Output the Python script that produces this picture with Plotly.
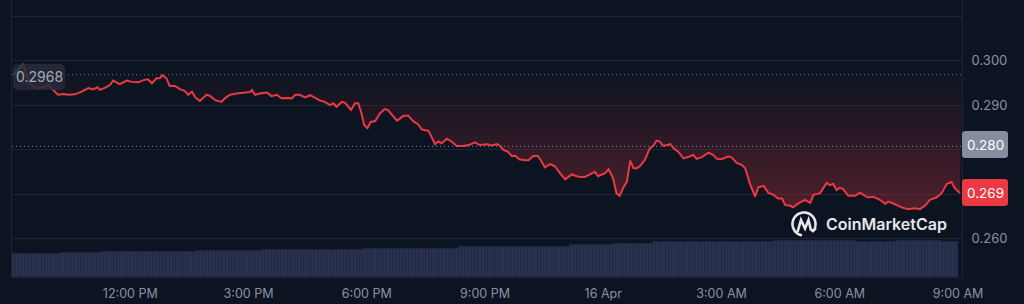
import numpy as np
import pandas as pd
import plotly.graph_objects as go

# ---------------- data ----------------
DAY1 = "2024-04-15"
DAY2 = "2024-04-16"
DAY1_TIMES = ["09:03", "09:17", "09:27", "09:38", "09:47", "09:55", "10:00", "10:10", "10:18", "10:26",
              "10:36", "10:46", "10:56", "11:04", "11:10", "11:14", "11:22", "11:29", "11:34", "11:44",
              "11:55", "12:02", "12:12", "12:20", "12:27", "12:33", "12:40", "12:45", "12:49", "12:55",
              "13:00", "13:08", "13:16", "13:23", "13:28", "13:34", "13:39", "13:46", "13:56", "14:01",
              "14:09", "14:19", "14:24", "14:32", "14:42", "14:55", "15:02", "15:05", "15:10", "15:17",
              "15:28", "15:35", "15:43", "15:50", "15:58", "16:06", "16:11", "16:18", "16:26", "16:34",
              "16:41", "16:49", "16:56", "17:04", "17:09", "17:14", "17:22", "17:27", "17:36", "17:42",
              "17:47", "17:52", "17:56", "18:01", "18:06", "18:13", "18:20", "18:27", "18:32", "18:38",
              "18:46", "18:51", "18:56", "19:03", "19:11", "19:18", "19:24", "19:34", "19:44", "19:49",
              "19:54", "20:02", "20:09", "20:17", "20:27", "20:35", "20:45", "20:52", "21:03", "21:10",
              "21:18", "21:23", "21:28", "21:35", "21:41", "21:46", "21:52", "22:01", "22:06", "22:13",
              "22:20", "22:24", "22:31", "22:39", "22:46", "22:54", "23:02", "23:12", "23:22", "23:32",
              "23:40", "23:47", "23:52"]
DAY1_PRICES = [0.2968, 0.2992, 0.2948, 0.2937, 0.2940, 0.2945, 0.2938, 0.2923, 0.2925, 0.2923,
               0.2924, 0.2930, 0.2938, 0.2935, 0.2940, 0.2934, 0.2939, 0.2945, 0.2955, 0.2947,
               0.2955, 0.2952, 0.2951, 0.2956, 0.2958, 0.2949, 0.2960, 0.2960, 0.2967, 0.2960,
               0.2943, 0.2943, 0.2935, 0.2932, 0.2923, 0.2930, 0.2917, 0.2909, 0.2923, 0.2921,
               0.2911, 0.2907, 0.2915, 0.2923, 0.2926, 0.2928, 0.2929, 0.2934, 0.2923, 0.2926,
               0.2928, 0.2920, 0.2923, 0.2915, 0.2916, 0.2915, 0.2923, 0.2923, 0.2917, 0.2922,
               0.2916, 0.2910, 0.2907, 0.2900, 0.2904, 0.2896, 0.2907, 0.2905, 0.2889, 0.2904,
               0.2904, 0.2881, 0.2855, 0.2848, 0.2862, 0.2864, 0.2881, 0.2891, 0.2889, 0.2878,
               0.2865, 0.2870, 0.2876, 0.2876, 0.2863, 0.2857, 0.2845, 0.2842, 0.2812, 0.2818,
               0.2814, 0.2824, 0.2818, 0.2808, 0.2808, 0.2810, 0.2816, 0.2810, 0.2812, 0.2809,
               0.2812, 0.2808, 0.2799, 0.2795, 0.2785, 0.2786, 0.2778, 0.2776, 0.2776, 0.2785,
               0.2786, 0.2778, 0.2760, 0.2767, 0.2763, 0.2747, 0.2733, 0.2744, 0.2739, 0.2738,
               0.2745, 0.2750, 0.2740]
DAY2_TIMES = ["00:03", "00:08", "00:15", "00:20", "00:25", "00:30", "00:36", "00:41", "00:46", "00:51",
              "00:56", "01:03", "01:11", "01:16", "01:21", "01:26", "01:31", "01:42", "01:47", "01:54",
              "02:02", "02:09", "02:17", "02:22", "02:30", "02:40", "02:47", "02:53", "03:00", "03:10",
              "03:15", "03:23", "03:31", "03:36", "03:43", "03:51", "03:56", "04:04", "04:11", "04:19",
              "04:26", "04:32", "04:37", "04:44", "04:49", "04:57", "05:07", "05:15", "05:20", "05:30",
              "05:35", "05:40", "05:45", "05:50", "05:55", "06:00", "06:05", "06:13", "06:23", "06:31",
              "06:36", "06:43", "06:51", "07:01", "07:09", "07:14", "07:24", "07:34", "07:44", "07:54",
              "08:02", "08:10", "08:17", "08:27", "08:35", "08:43", "08:50", "08:55", "09:03"]
DAY2_PRICES = [0.2747, 0.2756, 0.2735, 0.2702, 0.2696, 0.2713, 0.2728, 0.2775, 0.2758, 0.2758,
               0.2763, 0.2776, 0.2803, 0.2808, 0.2820, 0.2818, 0.2808, 0.2812, 0.2803, 0.2795,
               0.2780, 0.2783, 0.2788, 0.2779, 0.2783, 0.2793, 0.2788, 0.2779, 0.2778, 0.2784,
               0.2783, 0.2770, 0.2765, 0.2758, 0.2724, 0.2694, 0.2715, 0.2718, 0.2703, 0.2698,
               0.2690, 0.2690, 0.2675, 0.2674, 0.2670, 0.2679, 0.2687, 0.2680, 0.2698, 0.2702,
               0.2713, 0.2725, 0.2720, 0.2723, 0.2709, 0.2714, 0.2711, 0.2696, 0.2696, 0.2703,
               0.2698, 0.2692, 0.2694, 0.2687, 0.2678, 0.2683, 0.2677, 0.2670, 0.2666, 0.2668,
               0.2666, 0.2674, 0.2687, 0.2692, 0.2702, 0.2723, 0.2727, 0.2713, 0.2702]

OPEN_PRICE = 0.2968          # baseline (first price)
OPEN_LABEL = "0.2968"
REF_PRICE = 0.2807           # grey marker line
REF_LABEL = "0.280"
LAST_LABEL = "0.269"

# 5-minute volume bars (run-length: level in M USD, number of bars)
VOLUME_LEVELS = [115, 120, 123.5, 125, 131.5, 136.5, 135, 141.5, 140, 151.5,
                 158.5, 163.5, 166.5, 173.5, 173.5, 180, 176.5, 180, 176.5]
VOLUME_RUN_BARS = [15, 12, 24, 5, 20, 26, 5, 15, 14, 34,
                   13, 3, 9, 8, 29, 25, 12, 14, 5]

Y_TICKS = [0.26, 0.27, 0.28, 0.29, 0.30, 0.31]
Y_TICK_TEXT = ["0.260", "", "", "0.290", "0.300", ""]
X_TICKS = ["2024-04-15 12:00", "2024-04-15 15:00", "2024-04-15 18:00", "2024-04-15 21:00",
           "2024-04-16 00:00", "2024-04-16 03:00", "2024-04-16 06:00", "2024-04-16 09:00"]
X_TICK_TEXT = ["12:00 PM", "3:00 PM", "6:00 PM", "9:00 PM", "16 Apr", "3:00 AM", "6:00 AM", "9:00 AM"]
X_RANGE = ["2024-04-15 09:00", "2024-04-16 09:06"]

# ---------------- build ----------------
times = pd.to_datetime([f"{DAY1} {t}" for t in DAY1_TIMES] + [f"{DAY2} {t}" for t in DAY2_TIMES])
prices = DAY1_PRICES + DAY2_PRICES
vol = np.repeat(VOLUME_LEVELS, VOLUME_RUN_BARS)
vol_t = pd.date_range("2024-04-15 09:02:30", periods=len(vol), freq="5min")

BG = "#0d1421"
GRID = "#1f2432"
RED = "#ea3943"
GREEN = "#16c784"
TXT = "#8a91a3"
FONT = "Inter"

W, H = 1024, 304
ML, MR, MT, MB = 12, 62, 0, 27
PW, PH = W - ML - MR, H - MT - MB


def px(x):
    return (x - ML) / PW


def py(y):
    return (H - MB - y) / PH


def path(pts, close=False):
    s = "M " + " L ".join(f"{px(x):.5f},{py(y):.5f}" for x, y in pts)
    return s + (" Z" if close else "")


def rounded_rect(x0, y0, x1, y1, rad):
    pts = []
    corners = [(x1 - rad, y0 + rad, -90), (x1 - rad, y1 - rad, 0), (x0 + rad, y1 - rad, 90), (x0 + rad, y0 + rad, 180)]
    for ccx, ccy, a0 in corners:
        for a in np.radians(np.linspace(a0, a0 + 90, 6)):
            pts.append((ccx + rad * np.cos(a), ccy + rad * np.sin(a)))
    return path(pts, close=True)


fig = go.Figure()
fig.add_trace(go.Bar(x=vol_t, y=vol, yaxis="y2", marker=dict(color="#29324f", line=dict(color="#222a45", width=0.8)),
                     width=300000, hoverinfo="skip"))
fig.add_trace(go.Scatter(x=[pd.Timestamp(X_RANGE[0]), pd.Timestamp(X_RANGE[1])], y=[OPEN_PRICE, OPEN_PRICE],
                         mode="lines", line=dict(color="#6f778a", width=1.2, dash="1px,3px"), hoverinfo="skip"))
fig.add_trace(go.Scatter(x=times, y=prices, mode="lines", line=dict(color=RED, width=2),
                         fill="tonexty",
                         fillgradient=dict(type="vertical",
                                           colorscale=[[0, "rgba(234,57,67,0.30)"], [1, "rgba(234,57,67,0.0)"]],
                                           start=min(prices), stop=OPEN_PRICE),
                         hoverinfo="skip"))
fig.add_trace(go.Scatter(x=times[:2], y=prices[:2], mode="lines", line=dict(color=GREEN, width=2), hoverinfo="skip"))

shapes = [
    dict(type="line", xref="paper", yref="y", x0=0, x1=1, y0=REF_PRICE, y1=REF_PRICE,
         line=dict(color="#6f778a", width=1.2, dash="1px,3px"), layer="above"),
    dict(type="path", xref="paper", yref="paper", path=rounded_rect(962, 131, 1008, 158, 3),
         fillcolor="#858da1", line=dict(width=0), layer="above"),
    dict(type="path", xref="paper", yref="paper", path=rounded_rect(962, 179, 1008, 206, 3),
         fillcolor=RED, line=dict(width=0), layer="above"),
    dict(type="path", xref="paper", yref="paper", path=rounded_rect(13, 64, 65, 90, 5),
         fillcolor="rgba(40,44,58,0.85)", line=dict(width=0), layer="above"),
]

# CoinMarketCap logo icon
cx, cy, r = 804, 224, 11.5
th = np.radians(np.linspace(100, 380, 40))
arc = [(cx + r * np.cos(a), cy + r * np.sin(a)) for a in th]
wave = [(797.5, 232), (801, 220), (805, 228.5), (808.5, 220), (810.8, 229.5), (813, 231), (815.8, 228)]

shapes.append(dict(type="path", xref="paper", yref="paper", path=path(arc),
                   line=dict(color="#e6e8ec", width=2.6), layer="above"))
shapes.append(dict(type="path", xref="paper", yref="paper", path=path(wave),
                   line=dict(color="#e6e8ec", width=2.6), layer="above"))

annotations = [
    dict(xref="paper", yref="paper", x=px(985), y=py(144.5), text=REF_LABEL, showarrow=False,
         font=dict(family=FONT, size=13.5, color="#ffffff"), xanchor="center", yanchor="middle"),
    dict(xref="paper", yref="paper", x=px(985), y=py(192.5), text=LAST_LABEL, showarrow=False,
         font=dict(family=FONT, size=13.5, color="#ffffff"), xanchor="center", yanchor="middle"),
    dict(xref="paper", yref="paper", x=px(39), y=py(77), text=OPEN_LABEL, showarrow=False,
         font=dict(family=FONT, size=14, color="#a3a9b8"), xanchor="center", yanchor="middle"),
    dict(xref="paper", yref="paper", x=px(824), y=py(224), text="CoinMarketCap", showarrow=False,
         font=dict(family=FONT, size=16, color="#e6e8ec", weight=600), xanchor="left", yanchor="middle"),
]

fig.update_layout(
    width=W, height=H, margin=dict(l=ML, r=MR, t=MT, b=MB),
    paper_bgcolor=BG, plot_bgcolor=BG, showlegend=False, bargap=0,
    font=dict(family=FONT, color=TXT, size=12),
    xaxis=dict(type="date", range=X_RANGE, tickvals=X_TICKS, ticktext=X_TICK_TEXT, showgrid=False,
               zeroline=False, showline=True, linecolor=GRID, linewidth=1, ticks="",
               tickfont=dict(size=12.5, color=TXT), ticklabelstandoff=5),
    yaxis=dict(side="right", range=[0.25135, 0.31360], tickvals=Y_TICKS, ticktext=Y_TICK_TEXT,
               showgrid=True, gridcolor=GRID, gridwidth=1, zeroline=False, showline=True, mirror=True,
               linecolor=GRID, linewidth=1, ticks="", tickfont=dict(size=13, color=TXT), ticklabelstandoff=6),
    yaxis2=dict(overlaying="y", range=[0, 1385], visible=False, showgrid=False),
    shapes=shapes, annotations=annotations,
)

fig.write_html("out.html")
